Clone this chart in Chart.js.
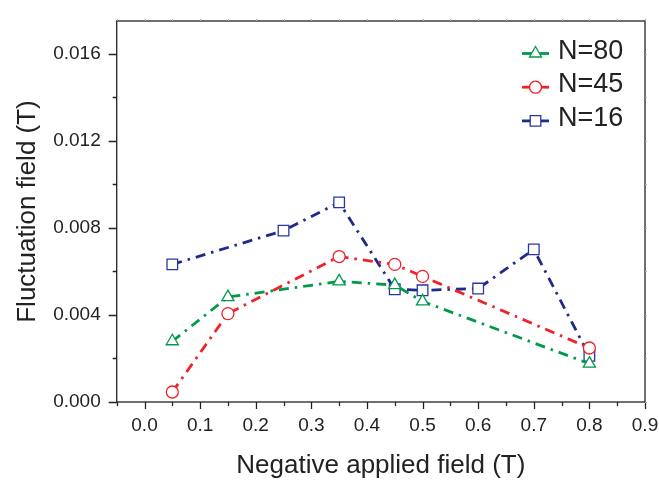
<!DOCTYPE html>
<html>
<head>
<meta charset="utf-8">
<script src="https://cdn.jsdelivr.net/npm/chart.js@4/dist/chart.umd.min.js"></script>
<style>
  html, body { margin: 0; padding: 0; background: #fff; }
  #wrap { width: 659px; height: 482px; }
</style>
</head>
<body>
<div id="wrap"><canvas id="c" width="659" height="482"></canvas></div>
<script>
// Negative applied field (T) and fluctuation field (T) for each sample size
const fieldN80 = [0.05, 0.15, 0.35, 0.45, 0.50, 0.80];
const fluctN80 = [0.00279, 0.00482, 0.00554, 0.00537, 0.00462, 0.00176];

const fieldN45 = [0.05, 0.15, 0.35, 0.45, 0.50, 0.80];
const fluctN45 = [0.00046, 0.00406, 0.00668, 0.00632, 0.00577, 0.00248];

const fieldN16 = [0.05, 0.25, 0.35, 0.45, 0.50, 0.60, 0.70, 0.80];
const fluctN16 = [0.00632, 0.00787, 0.00917, 0.00518, 0.00513, 0.00521, 0.00701, 0.00212];

const seriesNames = ['N=80', 'N=45', 'N=16'];

const xTitle = 'Negative applied field (T)';
const yTitle = 'Fluctuation field (T)';

const INK = '#222';
const FONT = "'Liberation Sans', Arial, sans-serif";

function toPoints(xs, ys) {
  return xs.map((x, i) => ({ x: x, y: ys[i] }));
}

function isMultiple(v, step) {
  const r = v / step;
  return Math.abs(r - Math.round(r)) < 1e-6;
}

const dashDot = [10, 6, 2.5, 6];

const datasets = [
  {
    label: seriesNames[0],
    data: toPoints(fieldN80, fluctN80),
    borderColor: '#009a4a',
    pointBorderColor: '#009a4a',
    pointStyle: 'triangle',
    pointRadius: 7
  },
  {
    label: seriesNames[1],
    data: toPoints(fieldN45, fluctN45),
    borderColor: '#ee2228',
    pointBorderColor: '#ee2228',
    pointStyle: 'circle',
    pointRadius: 6
  },
  {
    label: seriesNames[2],
    data: toPoints(fieldN16, fluctN16),
    borderColor: '#1f2a8a',
    pointBorderColor: '#2a35a0',
    pointStyle: 'rect',
    pointRadius: 7.5
  }
].map(d => Object.assign({
  showLine: true,
  borderWidth: 2.8,
  borderDash: dashDot,
  pointBackgroundColor: '#fff',
  pointBorderWidth: 1.3,
  pointHoverRadius: d.pointRadius,
  tension: 0,
  fill: false
}, d));

// Draws one open marker in the style used by a dataset
function drawMarker(ctx, style, r, x, y, color) {
  ctx.save();
  ctx.strokeStyle = color;
  ctx.fillStyle = '#fff';
  ctx.lineWidth = 1.3;
  ctx.setLineDash([]);
  ctx.beginPath();
  if (style === 'circle') {
    ctx.arc(x, y, r, 0, Math.PI * 2);
  } else if (style === 'triangle') {
    ctx.moveTo(x, y - r);
    ctx.lineTo(x + r * Math.sin(2 * Math.PI / 3), y - r * Math.cos(2 * Math.PI / 3));
    ctx.lineTo(x + r * Math.sin(4 * Math.PI / 3), y - r * Math.cos(4 * Math.PI / 3));
    ctx.closePath();
  } else {
    const s = r * Math.SQRT1_2;
    ctx.rect(x - s, y - s, 2 * s, 2 * s);
  }
  ctx.fill();
  ctx.stroke();
  ctx.restore();
}

// Frame box, major/minor tick marks and the in-plot legend
const framePlugin = {
  id: 'framePlugin',
  afterDraw(chart) {
    const { ctx, chartArea: a, scales } = chart;
    const xs = scales.x, ys = scales.y;
    ctx.save();
    ctx.strokeStyle = INK;
    ctx.lineWidth = 1.3;
    ctx.setLineDash([]);
    ctx.strokeRect(a.left, a.top, a.right - a.left, a.bottom - a.top);

    ctx.beginPath();
    xs.ticks.forEach(t => {
      const px = Math.round(xs.getPixelForValue(t.value)) + 0.5;
      const len = isMultiple(t.value, 0.1) ? 7 : 4;
      ctx.moveTo(px, a.bottom);
      ctx.lineTo(px, a.bottom + len);
    });
    ys.ticks.forEach(t => {
      const py = Math.round(ys.getPixelForValue(t.value)) + 0.5;
      const len = isMultiple(t.value, 0.004) ? 8 : 4;
      ctx.moveTo(a.left, py);
      ctx.lineTo(a.left - len, py);
    });
    ctx.stroke();

    // faint mirror ticks on the top and right edges
    ctx.strokeStyle = '#aaa';
    ctx.lineWidth = 1;
    ctx.beginPath();
    xs.ticks.forEach(t => {
      const px = Math.round(xs.getPixelForValue(t.value)) + 0.5;
      ctx.moveTo(px, a.top);
      ctx.lineTo(px, a.top - 2);
    });
    ys.ticks.forEach(t => {
      const py = Math.round(ys.getPixelForValue(t.value)) + 0.5;
      ctx.moveTo(a.right, py);
      ctx.lineTo(a.right + 2, py);
    });
    ctx.stroke();

    // legend
    const lx0 = 522, lx1 = 549, ly0 = 53.5, gap = 33.7;
    chart.data.datasets.forEach((ds, i) => {
      const y = ly0 + i * gap;
      ctx.strokeStyle = ds.borderColor;
      ctx.lineWidth = 2.8;
      ctx.setLineDash([]);
      ctx.beginPath();
      ctx.moveTo(lx0, y);
      ctx.lineTo(lx1, y);
      ctx.stroke();
      drawMarker(ctx, ds.pointStyle, ds.pointRadius, (lx0 + lx1) / 2, y, ds.pointBorderColor);
      ctx.fillStyle = INK;
      ctx.font = '27px ' + FONT;
      ctx.textAlign = 'left';
      ctx.textBaseline = 'alphabetic';
      ctx.fillText(ds.label, 558, y + 5);
    });
    ctx.restore();
  }
};

new Chart(document.getElementById('c'), {
  type: 'scatter',
  data: { datasets: datasets },
  options: {
    responsive: false,
    devicePixelRatio: 1,
    animation: false,
    events: [],
    layout: { padding: { top: 21, right: 14, left: 0, bottom: 0 } },
    plugins: {
      legend: { display: false },
      tooltip: { enabled: false }
    },
    scales: {
      x: {
        type: 'linear',
        min: -0.05,
        max: 0.9,
        afterFit(scale) {
          scale.height = 80;
          scale.paddingLeft = 0;
          scale.paddingRight = 0;
        },
        ticks: {
          stepSize: 0.05,
          autoSkip: false,
          maxRotation: 0,
          includeBounds: false,
          padding: 5,
          color: INK,
          font: { family: FONT, size: 19 },
          callback(v) {
            if (v < -1e-9 || !isMultiple(v, 0.1)) return '';
            return v.toFixed(1);
          }
        },
        grid: {
          drawOnChartArea: false,
          tickLength: 7,
          tickColor: 'rgba(0,0,0,0)'
        },
        border: { display: false },
        title: {
          display: true,
          text: xTitle,
          color: INK,
          font: { family: FONT, size: 26 },
          padding: { top: 0, bottom: 1 }
        }
      },
      y: {
        type: 'linear',
        min: 0,
        max: 0.0175,
        afterFit(scale) {
          scale.width = 116.7;
          scale.paddingTop = 0;
          scale.paddingBottom = 0;
        },
        ticks: {
          stepSize: 0.002,
          autoSkip: false,
          includeBounds: false,
          padding: 8,
          color: INK,
          font: { family: FONT, size: 19 },
          callback(v) {
            if (!isMultiple(v, 0.004)) return '';
            return v.toFixed(3);
          }
        },
        grid: {
          drawOnChartArea: false,
          tickLength: 8,
          tickColor: 'rgba(0,0,0,0)'
        },
        border: { display: false },
        title: {
          display: true,
          text: yTitle,
          color: INK,
          font: { family: FONT, size: 26 },
          padding: { top: 12, bottom: 0 }
        }
      }
    }
  },
  plugins: [framePlugin]
});
</script>
</body>
</html>
